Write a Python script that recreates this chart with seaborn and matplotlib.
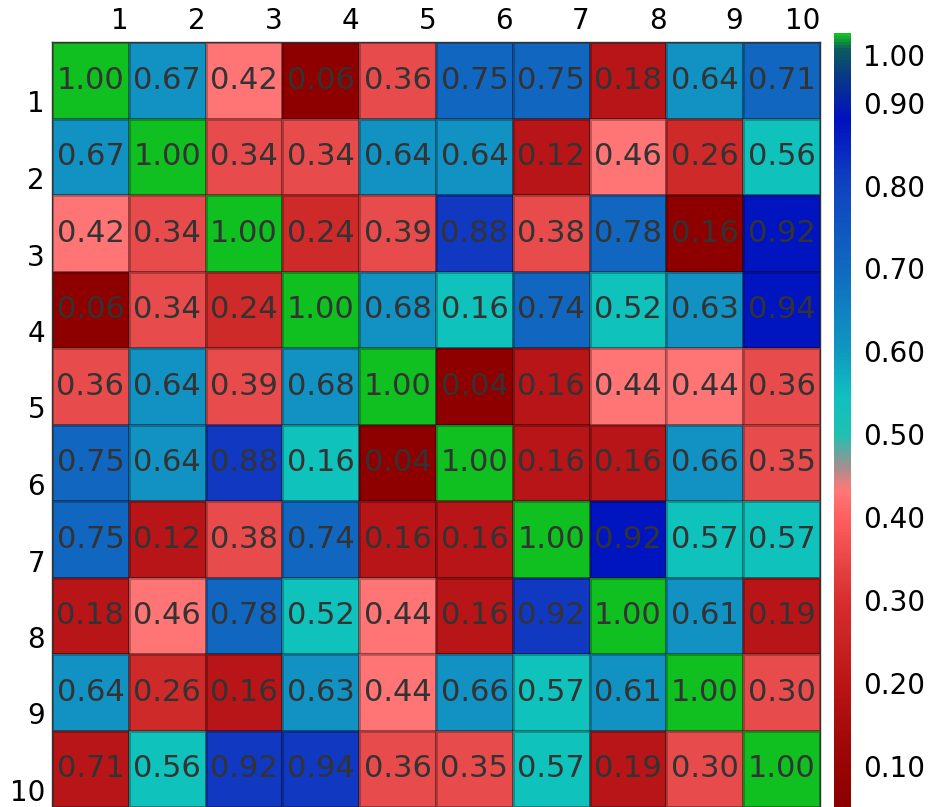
import matplotlib
matplotlib.use("Agg")
import matplotlib.pyplot as plt
import numpy as np
import seaborn as sns
from matplotlib.colors import ListedColormap, BoundaryNorm, LinearSegmentedColormap
from matplotlib.cm import ScalarMappable

sns.set_style("white")
plt.rcParams['font.family'] = ['DejaVu Sans']

names = ["1", "2", "3", "4", "5", "6", "7", "8", "9", "10"]

# printed numbers in each cell
labels = [
    ["1.00", "0.67", "0.42", "0.06", "0.36", "0.75", "0.75", "0.18", "0.64", "0.71"],
    ["0.67", "1.00", "0.34", "0.34", "0.64", "0.64", "0.12", "0.46", "0.26", "0.56"],
    ["0.42", "0.34", "1.00", "0.24", "0.39", "0.88", "0.38", "0.78", "0.16", "0.92"],
    ["0.06", "0.34", "0.24", "1.00", "0.68", "0.16", "0.74", "0.52", "0.63", "0.94"],
    ["0.36", "0.64", "0.39", "0.68", "1.00", "0.04", "0.16", "0.44", "0.44", "0.36"],
    ["0.75", "0.64", "0.88", "0.16", "0.04", "1.00", "0.16", "0.16", "0.66", "0.35"],
    ["0.75", "0.12", "0.38", "0.74", "0.16", "0.16", "1.00", "0.92", "0.57", "0.57"],
    ["0.18", "0.46", "0.78", "0.52", "0.44", "0.16", "0.92", "1.00", "0.61", "0.19"],
    ["0.64", "0.26", "0.16", "0.63", "0.44", "0.66", "0.57", "0.61", "1.00", "0.30"],
    ["0.71", "0.56", "0.92", "0.94", "0.36", "0.35", "0.57", "0.19", "0.30", "1.00"],
]

# values behind the cell colours (not always the printed ones)
colour_vals = [
    [1.00, 0.67, 0.42, 0.06, 0.36, 0.75, 0.75, 0.18, 0.64, 0.71],
    [0.67, 1.00, 0.34, 0.34, 0.64, 0.64, 0.12, 0.46, 0.26, 0.56],
    [0.42, 0.34, 1.00, 0.24, 0.39, 0.88, 0.38, 0.78, 0.06, 0.92],
    [0.06, 0.34, 0.24, 1.00, 0.68, 0.52, 0.74, 0.52, 0.63, 0.94],
    [0.36, 0.64, 0.39, 0.68, 1.00, 0.04, 0.16, 0.44, 0.44, 0.36],
    [0.75, 0.64, 0.88, 0.52, 0.04, 1.00, 0.16, 0.16, 0.66, 0.35],
    [0.75, 0.12, 0.38, 0.74, 0.16, 0.16, 1.00, 0.92, 0.57, 0.57],
    [0.18, 0.46, 0.78, 0.52, 0.44, 0.16, 0.85, 1.00, 0.61, 0.19],
    [0.64, 0.26, 0.16, 0.63, 0.44, 0.66, 0.57, 0.61, 1.00, 0.30],
    [0.16, 0.56, 0.86, 0.86, 0.36, 0.35, 0.57, 0.19, 0.30, 1.00],
]

cbar_ticks = [0.10, 0.20, 0.30, 0.40, 0.50, 0.60, 0.70, 0.80, 0.90, 0.958]
cbar_ticklabels = ["0.10", "0.20", "0.30", "0.40", "0.50", "0.60", "0.70", "0.80", "0.90", "1.00"]

# binned colours used for the cells
bin_colours = ["#8e0000", "#b71518", "#cf2a2a", "#e84b4b", "#ff7474", "#10c2bc",
               "#1192c2", "#1166c0", "#1038c0", "#0014c0", "#10c020"]
bin_edges = [0.0, 0.1, 0.2, 0.3, 0.4, 0.5, 0.6, 0.7, 0.8, 0.9, 0.995, 1.01]
cell_cmap = ListedColormap(bin_colours)
cell_norm = BoundaryNorm(bin_edges, cell_cmap.N)

# smooth colours for the colour bar
bar_cmap = LinearSegmentedColormap.from_list("bar", [
    (0.00, "#8b0000"), (0.06, "#9a0505"), (0.16, "#bb1515"), (0.27, "#d83030"),
    (0.375, "#ff6060"), (0.41, "#ff7878"), (0.44, "#a09090"), (0.48, "#20c0b0"),
    (0.53, "#10c0c0"), (0.59, "#1098c0"), (0.70, "#1068c0"), (0.81, "#1040c0"),
    (0.89, "#0010c0"), (0.95, "#0a3c80"), (0.98, "#0a5a60"), (1.00, "#10c020"),
])

fig = plt.figure(figsize=(9.32, 8.07), dpi=100)
ax = fig.add_axes([52 / 932, 0.0, 768 / 932, 765 / 807])
cax = fig.add_axes([834 / 932, 0.0, 17 / 932, 774 / 807])

sns.heatmap(np.array(colour_vals), annot=np.array(labels), fmt="", cmap=cell_cmap, norm=cell_norm,
            cbar=False, linewidths=0.8, linecolor=(0, 0, 0, 0.25), ax=ax,
            annot_kws={"fontsize": 22, "color": "#333333"})

ax.xaxis.tick_top()
ax.set_xticks(np.arange(1, 11))
ax.set_xticklabels(names, ha="right", fontsize=20, color="black")
ax.set_yticks(np.arange(1, 11))
ax.set_yticklabels(names, va="bottom", rotation=0, fontsize=20, color="black")
ax.tick_params(length=0, pad=5)
for s in ax.spines.values():
    s.set_visible(True)
    s.set_color("#333333")
    s.set_linewidth(1)

sm = ScalarMappable(norm=plt.Normalize(0.0505, 0.984), cmap=bar_cmap)
cb = fig.colorbar(sm, cax=cax)
cb.set_ticks(cbar_ticks)
cb.set_ticklabels(cbar_ticklabels)
cb.ax.tick_params(length=0, pad=9, labelsize=20, labelcolor="black")
cb.outline.set_visible(False)

fig.savefig("out.png", dpi=100)
